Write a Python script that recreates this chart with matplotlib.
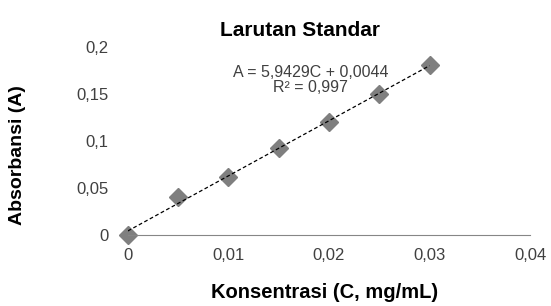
import numpy as np
import matplotlib
matplotlib.use("Agg")
import matplotlib.pyplot as plt

plt.rcParams['font.family'] = ['Liberation Sans', 'DejaVu Sans']

# standard solution data
konsentrasi = [0, 0.005, 0.01, 0.015, 0.02, 0.025, 0.03]
absorbansi  = [0, 0.040, 0.062, 0.093, 0.120, 0.150, 0.181]
x_ticks = [0, 0.01, 0.02, 0.03, 0.04]
x_labels = ["0", "0,01", "0,02", "0,03", "0,04"]
y_ticks = [0, 0.05, 0.1, 0.15, 0.2]
y_labels = ["0", "0,05", "0,1", "0,15", "0,2"]
eq_text = "A = 5,9429C + 0,0044\nR² = 0,997"

fig = plt.figure(figsize=(5.51, 3.06), dpi=100)
ax = fig.add_axes([0.232, 0.232, 0.730, 0.614])

slope, icpt = np.polyfit(konsentrasi, absorbansi, 1)
xl = np.array([0, konsentrasi[-1]])
ax.plot(xl, slope * xl + icpt, "--", color="black", lw=0.9, dashes=(3, 2), zorder=3)
ax.plot(konsentrasi, absorbansi, "D", color="#7f7f7f", ms=9, zorder=2, clip_on=False)

ax.set_xlim(0, 0.04); ax.set_ylim(0, 0.2)
ax.set_xticks(x_ticks); ax.set_xticklabels(x_labels)
ax.set_yticks(y_ticks); ax.set_yticklabels(y_labels)
for s in ["top", "right", "left"]:
    ax.spines[s].set_visible(False)
ax.spines["bottom"].set_color("#868686")
ax.tick_params(length=0, labelsize=12, colors="#404040")
ax.tick_params(axis="x", pad=9)
ax.tick_params(axis="y", pad=14)

ax.text(0.0182, 0.165, eq_text, ha="center", va="center", fontsize=11.5,
        color="#404040", linespacing=1.0)

fig.text(300 / 551, 1 - 30 / 306, "Larutan Standar", ha="center", va="center",
         fontsize=15, fontweight="bold")
fig.text(325 / 551, 1 - 292 / 306, "Konsentrasi (C, mg/mL)", ha="center", va="center",
         fontsize=14.5, fontweight="bold")
fig.text(18 / 551, 1 - 155 / 306, "Absorbansi (A)", ha="center", va="center",
         fontsize=14, fontweight="bold", rotation=90)

plt.savefig("out.png", dpi=100)
plt.close()
